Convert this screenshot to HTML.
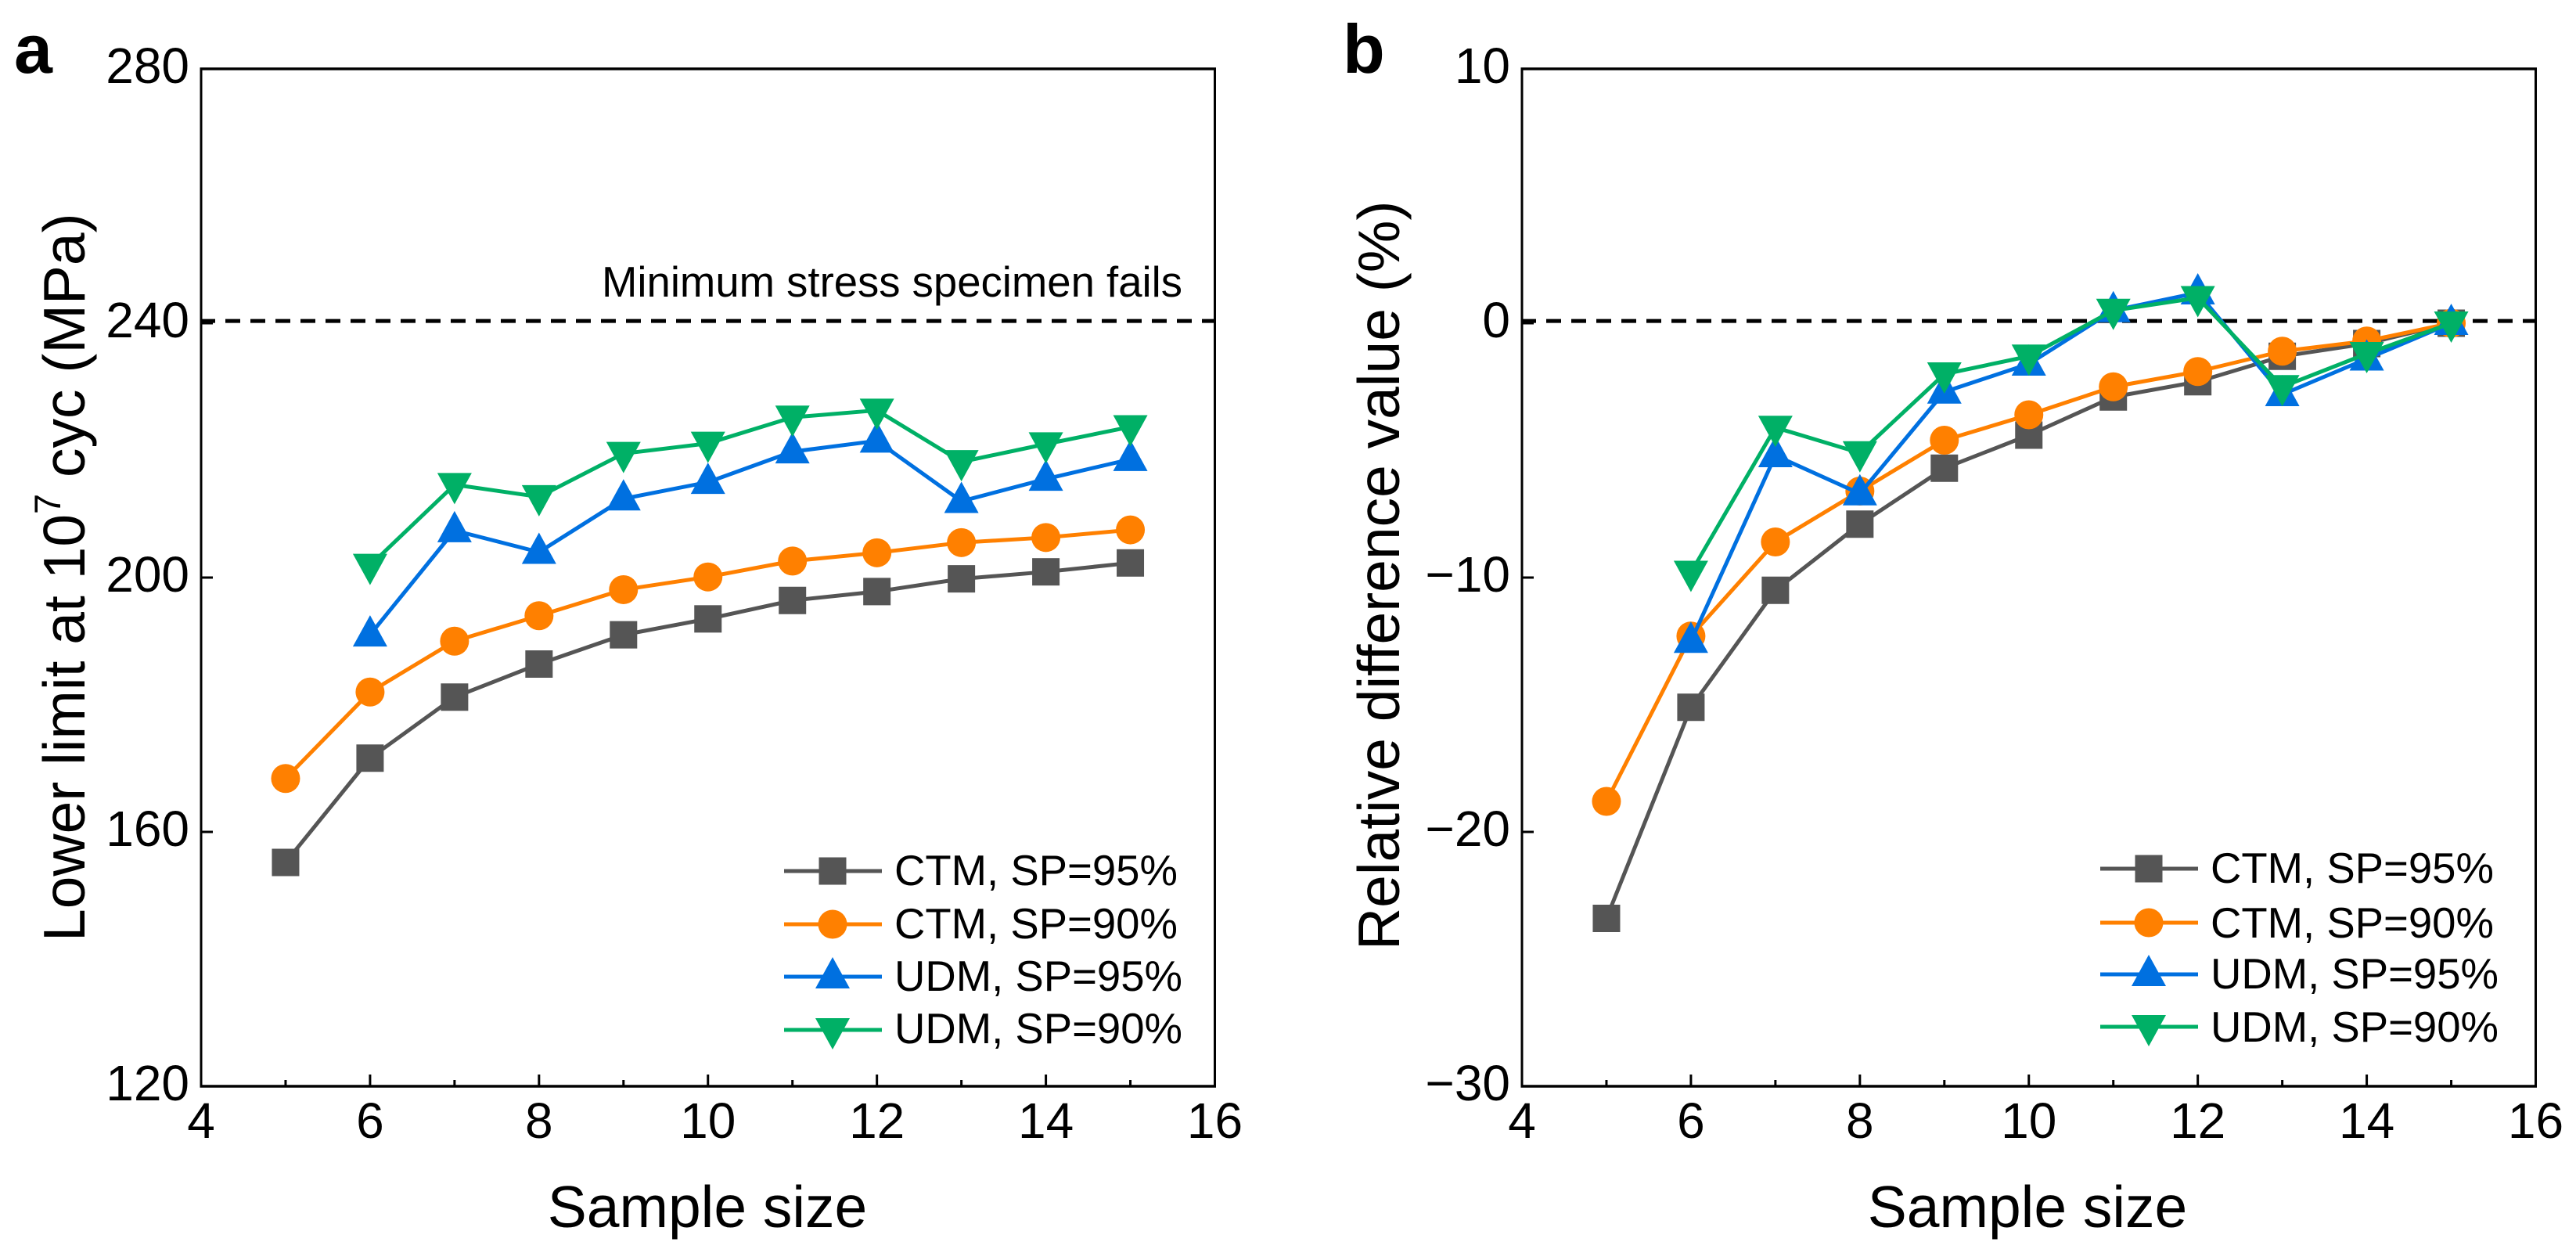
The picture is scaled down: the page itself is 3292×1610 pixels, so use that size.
<!DOCTYPE html>
<html>
<head>
<meta charset="utf-8">
<title>Lower limit and relative difference vs sample size</title>
<style>
html,body{margin:0;padding:0;background:#fff;}
svg{display:block;font-family:"Liberation Sans",Arial,sans-serif;}
.tick{font-size:64px;fill:#000;}
.title{font-size:75px;fill:#000;}
.leg{font-size:54.5px;fill:#000;}
.letter{font-size:88px;font-weight:bold;fill:#000;}
</style>
</head>
<body>
<svg id="chart" width="3292" height="1610" viewBox="0 0 3292 1610" xmlns="http://www.w3.org/2000/svg">
  <rect x="0" y="0" width="3292" height="1610" fill="#fff"/>

  <text class="letter" x="18" y="93">a</text>
  <text class="letter" x="1716" y="93">b</text>

  <g id="panelA"></g>
  <g id="panelB"></g>

  <text class="title" x="904" y="1568" text-anchor="middle">Sample size</text>
  <text class="title" x="2591" y="1568" text-anchor="middle">Sample size</text>

  <text class="title" transform="translate(108,1203) rotate(-90)">Lower limit at 10<tspan font-size="47" dy="-31">7</tspan><tspan dy="31"> cyc (MPa)</tspan></text>
  <text class="title" transform="translate(1788,1214) rotate(-90)">Relative difference value (%)</text>

  <text class="leg" x="769" y="379" font-size="54.5">Minimum stress specimen fails</text>

  <g>
    <text class="leg" x="1143" y="1131">CTM, SP=95%</text>
    <text class="leg" x="1143" y="1199">CTM, SP=90%</text>
    <text class="leg" x="1143" y="1266">UDM, SP=95%</text>
    <text class="leg" x="1143" y="1333">UDM, SP=90%</text>
  </g>
  <g>
    <text class="leg" x="2825" y="1128">CTM, SP=95%</text>
    <text class="leg" x="2825" y="1198">CTM, SP=90%</text>
    <text class="leg" x="2825" y="1263">UDM, SP=95%</text>
    <text class="leg" x="2825" y="1331">UDM, SP=90%</text>
  </g>
</svg>
<script>
// Shared categories
var sampleSizes = [5, 6, 7, 8, 9, 10, 11, 12, 13, 14, 15];
var xTickLabels = [4, 6, 8, 10, 12, 14, 16];
var xMinorTicks = [5, 7, 9, 11, 13, 15];

// Panel a values (MPa); null = no point
var ctm95A = [155.2, 171.6, 181.2, 186.4, 191.0, 193.5, 196.4, 197.8, 199.8, 200.9, 202.3];
var ctm90A = [168.4, 182.0, 190.0, 194.0, 198.1, 200.1, 202.6, 203.9, 205.5, 206.3, 207.5];
var udm95A = [null, 191.0, 207.4, 204.0, 212.4, 215.0, 219.8, 221.5, 212.0, 215.5, 218.6];
var udm90A = [null, 201.9, 214.6, 212.7, 219.5, 221.1, 225.2, 226.3, 218.2, 221.0, 223.7];
var yTicksA = [120, 160, 200, 240, 280];
var refValueA = [240.35];

// Panel b values (%)
var ctm95B = [-23.4, -15.1, -10.5, -7.9, -5.7, -4.4, -2.9, -2.3, -1.3, -0.8, 0];
var ctm90B = [-18.8, -12.3, -8.6, -6.6, -4.6, -3.6, -2.5, -1.9, -1.1, -0.7, 0];
var udm95B = [null, -12.5, -5.2, -6.7, -2.7, -1.6, 0.5, 1.2, -2.8, -1.4, 0];
var udm90B = [null, -9.8, -4.1, -5.1, -2.0, -1.3, 0.5, 1.0, -2.5, -1.2, 0];
var yTicksB = [-30, -20, -10, 0, 10];
var refValueB = [0.09];

var NS = 'http://www.w3.org/2000/svg';
var COLORS = {ctm95: '#555555', ctm90: '#ff8000', udm95: '#0070e0', udm90: '#00b066'};

function mk(parent, tag, attrs) {
  var el = document.createElementNS(NS, tag);
  for (var k in attrs) el.setAttribute(k, attrs[k]);
  parent.appendChild(el);
  return el;
}

function drawMarker(g, kind, cx, cy, color, name) {
  var m;
  if (kind === 'square') {
    m = mk(g, 'rect', {x: cx - 17.5, y: cy - 17.5, width: 35, height: 35, fill: color});
  } else if (kind === 'circle') {
    m = mk(g, 'circle', {cx: cx, cy: cy, r: 18.5, fill: color});
  } else if (kind === 'up') {
    m = mk(g, 'polygon', {points: (cx - 22) + ',' + (cy + 15) + ' ' + (cx + 22) + ',' + (cy + 15) + ' ' + cx + ',' + (cy - 25), fill: color});
  } else {
    m = mk(g, 'polygon', {points: (cx - 22) + ',' + (cy - 15) + ' ' + (cx + 22) + ',' + (cy - 15) + ' ' + cx + ',' + (cy + 25), fill: color});
  }
  
  
}

function drawPanel(root, cfg) {
  var L = cfg.left, R = cfg.left + 1295.5, T = 88, B = 1388;
  var xMin = 4, xMax = 16;
  function xScale(v) { return L + (v - xMin) / (xMax - xMin) * (R - L); }
  function yScale(v) { return B - (v - cfg.yMin) / (cfg.yMax - cfg.yMin) * (B - T); }

  // plot frame
  var frame = mk(root, 'g', {});
  
  
  mk(frame, 'line', {x1: L, y1: T, x2: L, y2: B, stroke: '#000', 'stroke-width': 3});
  mk(frame, 'line', {x1: R, y1: T, x2: R, y2: B, stroke: '#000', 'stroke-width': 3});
  mk(frame, 'line', {x1: L - 1.5, y1: T, x2: R + 1.5, y2: T, stroke: '#000', 'stroke-width': 3.5});
  mk(frame, 'line', {x1: L - 1.5, y1: B, x2: R + 1.5, y2: B, stroke: '#000', 'stroke-width': 3.5});

  // x ticks and labels
  xTickLabels.forEach(function (v) {
    var t = mk(root, 'line', {x1: xScale(v), y1: B, x2: xScale(v), y2: B - 15, stroke: '#000', 'stroke-width': 3});
    
    
    var lab = mk(root, 'text', {x: xScale(v), y: 1454, 'text-anchor': 'middle', 'class': 'tick'});
    
    
    lab.textContent = String(v);
  });
  xMinorTicks.forEach(function (v) {
    var t = mk(root, 'line', {x1: xScale(v), y1: B, x2: xScale(v), y2: B - 8, stroke: '#000', 'stroke-width': 3});
    
    
  });

  // y ticks and labels
  cfg.yTicks.forEach(function (v) {
    var t = mk(root, 'line', {x1: L, y1: yScale(v), x2: L + 15, y2: yScale(v), stroke: '#000', 'stroke-width': 3});
    
    
    var lab = mk(root, 'text', {x: cfg.labelRight, y: yScale(v) + 18, 'text-anchor': 'end', 'class': 'tick'});
    
    
    lab.textContent = String(v).replace('-', '\u2212');
  });

  // reference line
  var ref = mk(root, 'line', {x1: L - 1, y1: yScale(cfg.ref[0]), x2: R, y2: yScale(cfg.ref[0]), stroke: '#000', 'stroke-width': 5, 'stroke-dasharray': '19 13'});
  
  

  // series
  cfg.series.forEach(function (s) {
    var g = mk(root, 'g', {});
    
    
    var pts = [];
    sampleSizes.forEach(function (n, i) {
      if (s.values[i] !== null) pts.push([xScale(n), yScale(s.values[i])]);
    });
    var line = mk(g, 'polyline', {
      points: pts.map(function (p) { return p[0] + ',' + p[1]; }).join(' '),
      fill: 'none', stroke: s.color, 'stroke-width': 5, 'stroke-linejoin': 'round'
    });
    
    
    pts.forEach(function (p) {
      drawMarker(g, s.marker, p[0], p[1], s.color, 'point-' + s.name);
    });
  });

  // legend swatches
  var entries = [
    {c: COLORS.ctm95, k: 'square', y: cfg.legendY[0], n: 'ctm-95'},
    {c: COLORS.ctm90, k: 'circle', y: cfg.legendY[1], n: 'ctm-90'},
    {c: COLORS.udm95, k: 'up', y: cfg.legendY[2], n: 'udm-95'},
    {c: COLORS.udm90, k: 'down', y: cfg.legendY[3], n: 'udm-90'}
  ];
  entries.forEach(function (e) {
    var g = mk(root, 'g', {});
    
    
    mk(g, 'line', {x1: cfg.legendX, y1: e.y, x2: cfg.legendX + 125, y2: e.y, stroke: e.c, 'stroke-width': 5});
    drawMarker(g, e.k, cfg.legendX + 62, e.y, e.c, 'legend-marker-' + e.n);
  });
}

drawPanel(document.getElementById('panelA'), {
  left: 257, yMin: 120, yMax: 280, yTicks: yTicksA, ref: refValueA, labelRight: 242,
  legendX: 1002, legendY: [1113, 1181, 1248, 1316],
  series: [
    {name: 'ctm-95', values: ctm95A, color: COLORS.ctm95, marker: 'square'},
    {name: 'ctm-90', values: ctm90A, color: COLORS.ctm90, marker: 'circle'},
    {name: 'udm-95', values: udm95A, color: COLORS.udm95, marker: 'up'},
    {name: 'udm-90', values: udm90A, color: COLORS.udm90, marker: 'down'}
  ]
});
drawPanel(document.getElementById('panelB'), {
  left: 1945, yMin: -30, yMax: 10, yTicks: yTicksB, ref: refValueB, labelRight: 1930,
  legendX: 2684, legendY: [1110, 1179, 1245, 1312],
  series: [
    {name: 'ctm-95', values: ctm95B, color: COLORS.ctm95, marker: 'square'},
    {name: 'ctm-90', values: ctm90B, color: COLORS.ctm90, marker: 'circle'},
    {name: 'udm-95', values: udm95B, color: COLORS.udm95, marker: 'up'},
    {name: 'udm-90', values: udm90B, color: COLORS.udm90, marker: 'down'}
  ]
});
</script>
</body>
</html>
